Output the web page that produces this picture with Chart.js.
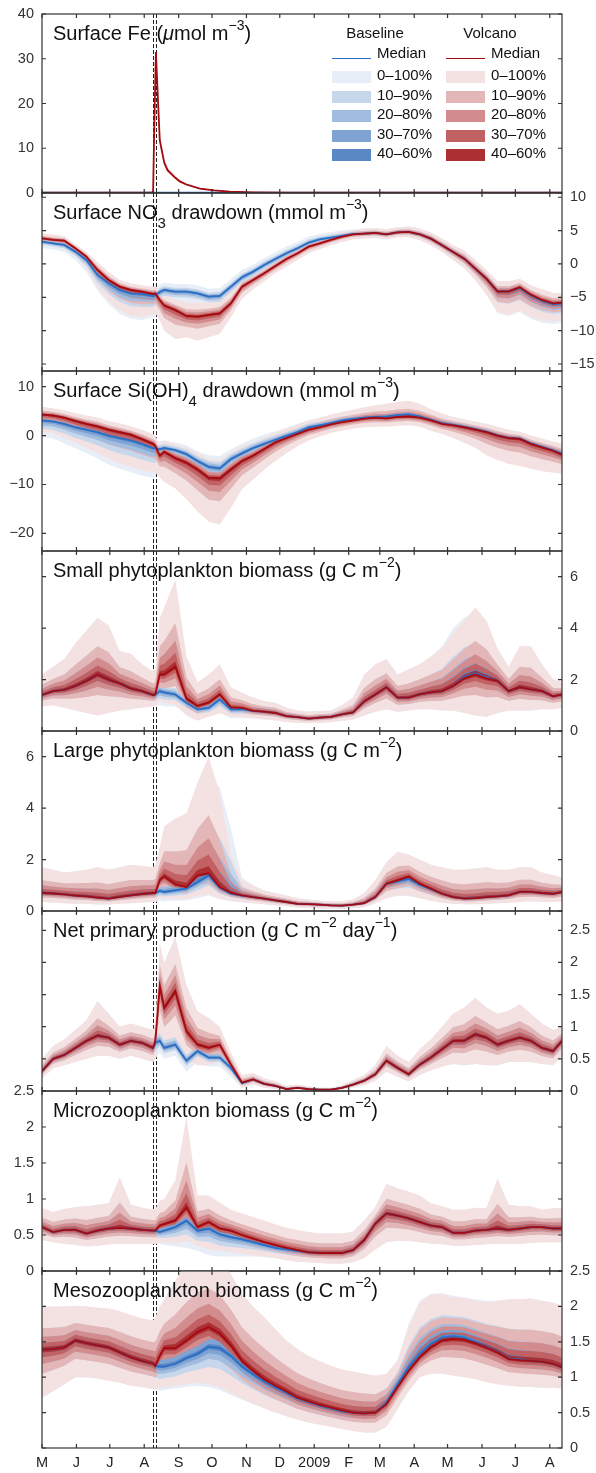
<!DOCTYPE html>
<html>
<head>
<meta charset="utf-8">
<script src="https://cdn.jsdelivr.net/npm/chart.js@4.4.1/dist/chart.umd.min.js"></script>
<style>
  html, body { margin: 0; padding: 0; background: #fff; }
  body { position: relative; width: 596px; height: 1473px; overflow: hidden;
         font-family: "Liberation Sans", Arial, Helvetica, sans-serif; color: #111; }
  canvas { position: absolute; left: 0; }
  .ttl { position: absolute; left: 53px; font-size: 20px; line-height: 20px; white-space: nowrap; }
  .ttl sup { font-size: 14px; line-height: 0; vertical-align: 10px; }
  .ttl sub { font-size: 15px; line-height: 0; vertical-align: -9px; }
  .lg { position: absolute; font-size: 15px; line-height: 18px; white-space: nowrap; color: #111; }
  .sw { position: absolute; width: 39px; height: 12px; }
  .ln { position: absolute; width: 39px; height: 0; border-top: 1.5px solid; }
</style>
</head>
<body>
<script>
// x axis = days since 1 May 2008
const monthDays = [0, 31, 61, 92, 123, 153, 184, 214, 245, 276, 304, 335, 365, 396, 426, 457];
const monthLabels = ['M', 'J', 'J', 'A', 'S', 'O', 'N', 'D', '2009', 'F', 'M', 'A', 'M', 'J', 'J', 'A'];
const eruptionDays = [100, 102.5];
const bandLabels = ['0\u2013100%', '10\u201390%', '20\u201380%', '30\u201370%', '40\u201360%'];

// sample days shared by panels 2-8
const days = [0,10,20,30,40,50,60,70,80,90,100,102,106,110,120,130,140,150,160,170,180,190,200,
  210,220,230,240,250,260,270,280,290,300,310,320,330,340,350,360,370,380,390,400,410,420,430,440,450,460,468];

// Surface Fe
const feDays = [0,60,99,100,101,102.5,104.5,106,110,113,120,124,130,142,155,169,190,220,260,468];
const feBaseMed = [0.1,0.1,0.1,0.1,0.1,0.1,0.1,0.1,0.1,0.1,0.1,0.1,0.1,0.1,0.1,0.1,0.1,0.1,0.1,0.1];
const feBaseLo = [0.05,0.05,0.05,0.05,0.05,0.05,0.05,0.05,0.05,0.05,0.05,0.05,0.05,0.05,0.05,0.05,0.05,0.05,0.05,0.05];
const feBaseHi = [0.15,0.15,0.15,0.15,0.15,0.15,0.15,0.15,0.15,0.15,0.15,0.15,0.15,0.15,0.15,0.15,0.15,0.15,0.15,0.15];
const feVolMed = [0.1,0.1,0.1,0.3,14,31.5,20,11.8,6.8,5.1,3.4,2.6,1.9,1.0,0.6,0.3,0.15,0.1,0.1,0.1];
const feVolLo = [0.05,0.05,0.05,0.2,12,31,18.5,10.5,6.0,4.5,3.0,2.3,1.6,0.85,0.5,0.22,0.1,0.05,0.05,0.05];
const feVolHi = [0.15,0.15,0.15,0.5,16,32,21.5,13,7.6,5.8,3.9,3.0,2.2,1.2,0.75,0.4,0.2,0.15,0.15,0.15];

// Surface NO3 drawdown
const no3BaseMed = [3.35,3.1,2.85,1.85,0.6,-1.65,-2.9,-3.9,-4.4,-4.5,-4.8, -4.65,-4.2,
  -3.9,-4.15,-4.15,-4.4,-4.9,-4.8,-3.4,-2.0,-1.15,-0.15, 0.75,1.6,2.35,3.2,3.7,3.95,4.2,4.5,4.55,4.65,
  4.45,4.75,4.8,4.45,3.8,2.8,1.8,0.8,-0.7,-2.2, -4.1,-4.1,-3.6,-4.7,-5.5,-6.0, -5.9];
const no3BaseLo = [2.4,2.2,1.8,0.6,-1.2,-4.0,-6.0,-7.5,-8.2,-8.4,-8.0, -7.8,-6.0,
  -5.6,-5.8,-5.9,-6.1,-6.6,-6.5,-5.0,-3.5,-2.5,-1.4, -0.5,0.4,1.2,2.1,2.7,3.0,3.3,3.7,3.8,3.9,
  3.7,4.0,4.0,3.6,2.8,1.8,0.6,-0.6,-2.4,-4.6, -7.4,-7.8,-7.2,-8.2,-8.8,-9.0, -8.8];
const no3BaseHi = [4.1,3.9,3.7,2.5,1.3,-0.2,-1.7,-2.9,-3.4,-3.7,-3.9, -3.8,-3.0,
  -2.8,-3.0,-3.0,-3.2,-3.7,-3.6,-2.3,-0.9,-0.1,0.9, 1.7,2.6,3.3,4.1,4.5,4.8,5.0,5.2,5.3,5.4,
  5.2,5.5,5.6,5.3,4.7,3.8,2.8,2.0,0.6,-0.9, -2.6,-2.6,-2.3,-3.3,-3.9,-4.4, -4.5];
const no3VolMed = [3.85,3.6,3.5,2.35,1.1,-0.9,-2.4,-3.4,-3.9,-4.15,-4.5, -4.4,-5.4,
  -6.2,-6.9,-7.8,-7.9,-7.65,-7.4,-5.9,-3.4,-2.4,-1.4, -0.3,0.75,1.6,2.6,3.1,3.6,4.1,4.45,4.55,4.65,
  4.45,4.75,4.8,4.45,3.8,2.8,1.8,0.8,-0.7,-2.2, -4.1,-4.1,-3.5,-4.6,-5.4,-5.9, -5.8];
const no3VolLo = [3.0,2.8,2.4,1.2,-0.6,-3.6,-5.6,-7.0,-7.8,-8.0,-7.6, -7.4,-8.5,
  -10.0,-11.3,-11.0,-11.5,-11.0,-10.5,-8.0,-5.2,-3.8,-2.6, -1.4,-0.4,0.6,1.6,2.2,2.8,3.3,3.7,3.8,3.9,
  3.7,4.0,4.0,3.6,2.8,1.8,0.6,-0.6,-2.4,-4.6, -7.2,-7.6,-7.0,-8.0,-8.4,-8.6, -8.4];
const no3VolHi = [4.6,4.4,4.2,3.0,1.8,0.3,-1.2,-2.4,-2.9,-3.2,-3.4, -3.3,-4.2,
  -4.6,-5.3,-5.8,-5.8,-5.8,-5.5,-4.2,-2.2,-1.4,-0.4, 0.6,1.6,2.4,3.4,3.9,4.4,4.8,5.1,5.3,5.4,
  5.2,5.5,5.6,5.3,4.7,3.8,2.8,2.0,0.6,-0.9, -2.6,-2.6,-2.2,-3.2,-3.8,-4.3, -4.4];

// Surface Si(OH)4 drawdown
const siBaseMed = [3.1,2.9,2.4,1.7,1.2,0.7,0.0,-0.5,-1.0,-1.7,-2.55, -2.55,-2.8,
  -2.55,-3.0,-3.8,-5.2,-6.4,-6.7,-4.8,-3.65,-2.55,-1.7, -0.9,-0.07,0.7,1.7,2.1,2.55,3.1,3.4,3.65,3.8,
  3.9,4.2,4.35,3.9,3.2,2.55,2.2,1.8,1.3,0.8, 0.05,-0.45,-0.6,-1.6,-2.3,-3.0, -3.7];
const siBaseLo = [-0.3,-0.6,-1.6,-2.6,-3.6,-4.7,-5.9,-6.8,-7.5,-8.2,-8.6, -8.6,-5.5,
  -4.5,-5.0,-6.2,-8.0,-9.6,-10.0,-7.5,-6.0,-4.8,-3.8, -2.8,-1.8,-1.0,0.0,0.5,1.0,1.5,1.8,2.0,2.1,
  2.2,2.4,2.5,2.2,1.4,0.6,-0.3,-1.3,-2.4,-3.8, -4.8,-5.6,-6.0,-6.6,-7.1,-7.4, -7.6];
const siBaseHi = [4.8,4.5,4.1,3.5,3.0,2.6,1.9,1.4,0.8,0.1,-0.8, -1.1,-1.2,
  -1.0,-1.4,-2.0,-3.2,-4.0,-4.2,-2.8,-1.6,-0.6,0.2, 0.9,1.6,2.4,3.2,3.7,4.2,4.7,5.0,5.3,5.5,
  5.6,6.0,6.2,5.6,5.0,4.4,3.8,3.3,2.8,2.3, 1.7,1.1,0.7,-0.1,-0.7,-1.3, -1.7];
const siVolMed = [4.3,4.1,3.65,3.0,2.4,1.9,1.2,0.7,0.2,-0.7,-1.7, -2.1,-4.1,
  -3.3,-4.6,-5.5,-6.9,-8.6,-8.7,-6.9,-5.2,-4.1,-2.75, -1.4,-0.5,0.35,1.2,1.7,2.3,2.75,3.1,3.45,3.65,
  3.5,3.8,3.9,3.65,3.1,2.4,2.1,1.7,1.2,0.7, 0.0,-0.5,-0.7,-1.7,-2.4,-3.1, -3.9];
const siVolLo = [0.8,0.5,-0.5,-1.5,-2.5,-3.6,-4.8,-5.7,-6.4,-7.1,-7.5, -7.5,-8.5,
  -9.5,-10.8,-13.0,-15.5,-17.6,-18.2,-14.8,-11.0,-9.0,-7.0, -5.2,-3.6,-2.2,-1.0,-0.2,0.5,1.0,1.4,1.7,1.8,
  1.8,2.0,2.1,1.8,1.0,0.3,-0.5,-1.5,-2.5,-4.0, -5.0,-5.8,-6.2,-6.8,-7.3,-7.6, -7.8];
const siVolHi = [5.9,5.6,5.2,4.6,4.1,3.7,3.0,2.5,1.9,1.2,0.3, 0.0,-1.8,
  -1.0,-1.8,-2.5,-3.5,-4.8,-5.0,-3.5,-2.2,-1.4,-0.4, 0.6,1.4,2.2,3.0,3.6,4.3,4.8,5.3,5.8,6.2,
  6.5,6.9,7.1,6.5,5.4,4.5,3.8,3.3,2.9,2.4, 1.8,1.2,0.8,0.0,-0.6,-1.2, -1.6];

// Small phytoplankton biomass
const spBaseMed = [1.4,1.55,1.6,1.75,1.95,2.2,2.0,1.85,1.65,1.55,1.4, 1.42,1.55,
  1.5,1.42,1.1,0.84,0.9,1.23,0.84,0.85,0.78,0.75, 0.7,0.58,0.54,0.48,0.52,0.55,0.65,0.72,1.15,1.42,
  1.7,1.3,1.3,1.42,1.5,1.55,1.75,2.1,2.25,2.1, 1.95,1.55,1.7,1.62,1.55,1.35, 1.42];
const spBaseLo = [0.95,1.0,0.9,0.8,0.7,0.6,0.7,0.8,0.85,0.9,0.95, 0.95,1.0,
  0.95,0.95,0.7,0.5,0.55,0.7,0.5,0.5,0.5,0.45, 0.42,0.35,0.32,0.3,0.32,0.34,0.4,0.45,0.6,0.75,
  0.85,0.75,0.8,0.85,0.85,0.8,0.8,0.7,0.6,0.55, 0.7,0.8,0.8,0.8,0.85,0.85, 0.9];
const spBaseHi = [2.2,2.5,2.8,3.4,3.9,4.4,4.1,3.1,3.0,2.6,2.3, 2.4,2.0,
  1.95,1.9,1.5,1.3,1.5,1.8,1.4,1.35,1.3,1.16, 1.1,0.9,0.8,0.75,0.78,0.8,1.0,1.3,2.2,2.6,
  2.8,2.2,2.4,2.6,2.9,3.3,4.0,4.4,4.6,4.2, 3.2,2.5,3.3,3.3,2.6,2.0, 1.9];
const spVolMed = [1.4,1.55,1.6,1.75,1.95,2.2,2.0,1.85,1.65,1.55,1.4, 1.42,2.2,
  2.2,2.5,1.25,0.97,1.1,1.42,0.92,0.9,0.78,0.75, 0.7,0.58,0.54,0.48,0.52,0.55,0.65,0.72,1.15,1.42,
  1.7,1.3,1.3,1.42,1.5,1.55,1.75,2.05,2.2,2.05, 1.95,1.55,1.7,1.62,1.55,1.35, 1.42];
const spVolLo = [0.95,1.0,0.9,0.8,0.7,0.6,0.7,0.8,0.85,0.9,0.95, 0.95,1.2,
  1.1,1.0,0.6,0.4,0.55,0.7,0.55,0.55,0.5,0.45, 0.42,0.35,0.32,0.3,0.32,0.34,0.4,0.45,0.6,0.75,
  0.85,0.75,0.8,0.85,0.85,0.8,0.8,0.7,0.6,0.55, 0.7,0.8,0.8,0.8,0.85,0.85, 0.9];
const spVolHi = [2.2,2.5,2.8,3.4,3.9,4.4,4.1,3.1,3.0,2.6,2.3, 2.4,4.4,
  4.8,5.9,2.9,1.9,2.2,2.6,1.7,1.5,1.3,1.16, 1.1,0.9,0.8,0.75,0.78,0.8,1.0,1.3,2.2,2.6,
  2.8,2.2,2.4,2.6,2.9,3.2,3.8,4.3,4.8,4.3, 3.2,2.5,3.3,3.3,2.6,2.0, 1.9];

// Large phytoplankton biomass
const lpBaseMed = [0.7,0.68,0.65,0.6,0.57,0.52,0.48,0.55,0.61,0.66,0.7, 0.7,0.78,
  0.74,0.8,0.87,1.12,1.38,0.9,0.68,0.6,0.54,0.48, 0.41,0.35,0.28,0.27,0.25,0.22,0.21,0.25,0.31,0.54,
  1.06,1.15,1.25,1.02,0.85,0.67,0.54,0.48,0.5,0.54, 0.57,0.61,0.74,0.74,0.7,0.67, 0.74];
const lpBaseLo = [0.35,0.33,0.3,0.28,0.28,0.25,0.25,0.28,0.3,0.33,0.35, 0.35,0.4,
  0.38,0.4,0.42,0.5,0.6,0.45,0.38,0.33,0.3,0.26, 0.22,0.18,0.14,0.12,0.1,0.09,0.09,0.11,0.15,0.3,
  0.5,0.58,0.58,0.5,0.4,0.32,0.28,0.26,0.26,0.28, 0.3,0.32,0.35,0.38,0.36,0.35, 0.38];
const lpBaseHi = [1.7,1.6,1.5,1.55,1.6,1.7,1.6,1.7,1.8,1.75,1.7, 1.8,1.3,
  1.4,1.6,2.0,3.5,5.2,4.8,3.2,1.3,1.0,0.8, 0.7,0.6,0.5,0.45,0.4,0.38,0.38,0.45,0.7,1.2,
  1.9,2.25,2.15,2.0,1.8,1.7,1.6,1.6,1.65,1.7, 1.6,1.6,1.7,1.7,1.5,1.4, 1.3];
const lpVolMed = [0.7,0.68,0.65,0.6,0.57,0.52,0.48,0.55,0.61,0.66,0.7, 0.7,1.2,
  1.34,1.03,0.93,1.38,1.47,0.93,0.7,0.61,0.54,0.48, 0.41,0.35,0.28,0.27,0.25,0.22,0.21,0.25,0.31,0.54,
  1.06,1.19,1.34,1.06,0.87,0.67,0.54,0.48,0.5,0.54, 0.57,0.61,0.74,0.74,0.7,0.67, 0.74];
const lpVolLo = [0.35,0.33,0.3,0.28,0.28,0.25,0.25,0.28,0.3,0.33,0.35, 0.35,0.5,
  0.5,0.45,0.45,0.6,0.65,0.5,0.4,0.35,0.3,0.26, 0.22,0.18,0.14,0.12,0.1,0.09,0.09,0.11,0.15,0.3,
  0.5,0.6,0.6,0.5,0.4,0.32,0.28,0.26,0.26,0.28, 0.3,0.32,0.35,0.38,0.36,0.35, 0.38];
const lpVolHi = [1.7,1.6,1.5,1.55,1.6,1.7,1.6,1.7,1.8,1.75,1.7, 1.8,2.5,
  3.3,3.6,3.8,5.0,6.0,4.6,2.2,1.2,1.0,0.8, 0.7,0.6,0.5,0.45,0.4,0.38,0.38,0.45,0.7,1.2,
  1.9,2.3,2.2,2.0,1.8,1.7,1.6,1.6,1.65,1.7, 1.6,1.6,1.7,1.7,1.5,1.4, 1.3];

// Net primary production
const npBaseMed = [0.31,0.5,0.56,0.67,0.78,0.86,0.83,0.72,0.78,0.75,0.67, 0.75,0.78,
  0.67,0.72,0.47,0.62,0.52,0.52,0.36,0.12,0.18,0.11, 0.08,0.03,0.05,0.03,0.02,0.02,0.05,0.1,0.16,0.26,
  0.47,0.36,0.26,0.41,0.52,0.65,0.78,0.78,0.88,0.83, 0.72,0.78,0.83,0.78,0.67,0.62, 0.78];
const npBaseLo = [0.2,0.35,0.4,0.45,0.5,0.55,0.55,0.5,0.55,0.5,0.45, 0.5,0.6,
  0.5,0.55,0.3,0.45,0.38,0.38,0.22,0.05,0.1,0.05, 0.03,0.01,0.02,0.01,0.0,0.0,0.02,0.05,0.09,0.16,
  0.3,0.22,0.15,0.25,0.32,0.38,0.42,0.4,0.42,0.4, 0.4,0.45,0.45,0.45,0.42,0.4, 0.55];
const npBaseHi = [0.5,0.7,0.8,0.95,1.1,1.4,1.2,1.0,1.05,1.0,0.95, 1.0,1.0,
  0.9,0.95,0.65,0.8,0.7,0.7,0.5,0.22,0.28,0.2, 0.15,0.08,0.1,0.07,0.05,0.05,0.09,0.17,0.25,0.4,
  0.7,0.55,0.45,0.65,0.8,1.0,1.2,1.3,1.45,1.3, 1.2,1.25,1.35,1.2,1.05,0.95, 1.0];
const npVolMed = [0.31,0.5,0.56,0.67,0.78,0.86,0.83,0.72,0.78,0.75,0.67, 0.78,1.63,
  1.29,1.55,0.93,0.72,0.67,0.72,0.41,0.13,0.18,0.11, 0.08,0.03,0.05,0.03,0.02,0.02,0.05,0.1,0.16,0.26,
  0.47,0.36,0.26,0.41,0.52,0.65,0.78,0.78,0.88,0.83, 0.72,0.78,0.83,0.78,0.67,0.62, 0.78];
const npVolLo = [0.2,0.35,0.4,0.45,0.5,0.55,0.55,0.5,0.55,0.5,0.45, 0.5,0.9,
  0.7,0.8,0.5,0.4,0.4,0.45,0.25,0.05,0.1,0.05, 0.03,0.01,0.02,0.01,0.0,0.0,0.02,0.05,0.09,0.16,
  0.3,0.22,0.15,0.25,0.32,0.38,0.42,0.4,0.42,0.4, 0.4,0.45,0.45,0.45,0.42,0.4, 0.55];
const npVolHi = [0.5,0.7,0.8,0.95,1.1,1.4,1.2,1.0,1.05,1.0,0.95, 1.05,2.3,
  2.0,2.4,1.65,1.24,1.14,1.0,0.6,0.25,0.28,0.2, 0.15,0.08,0.1,0.07,0.05,0.05,0.09,0.17,0.25,0.4,
  0.7,0.55,0.45,0.65,0.8,1.0,1.2,1.3,1.45,1.3, 1.2,1.25,1.35,1.2,1.05,0.95, 1.0];

// Microzooplankton biomass
const mzBaseMed = [0.61,0.54,0.57,0.57,0.52,0.56,0.59,0.6,0.59,0.57,0.56, 0.56,0.54,
  0.56,0.61,0.7,0.56,0.59,0.51,0.47,0.44,0.4,0.36, 0.32,0.3,0.28,0.26,0.25,0.25,0.25,0.29,0.43,0.66,
  0.8,0.77,0.73,0.68,0.63,0.61,0.53,0.53,0.56,0.57, 0.59,0.57,0.59,0.61,0.61,0.59, 0.59];
const mzBaseLo = [0.43,0.4,0.38,0.36,0.34,0.35,0.37,0.38,0.38,0.38,0.38, 0.38,0.38,
  0.36,0.34,0.32,0.28,0.22,0.2,0.2,0.2,0.2,0.19, 0.18,0.15,0.13,0.12,0.11,0.1,0.1,0.12,0.18,0.3,
  0.4,0.42,0.42,0.4,0.38,0.37,0.35,0.35,0.36,0.37, 0.38,0.38,0.38,0.39,0.4,0.4, 0.4];
const mzBaseHi = [0.87,0.82,0.86,0.89,0.9,0.92,0.94,1.3,0.92,0.88,0.85, 0.86,0.85,
  0.85,0.9,1.0,0.85,0.85,0.78,0.72,0.7,0.68,0.65, 0.62,0.58,0.55,0.53,0.52,0.52,0.52,0.55,0.7,0.89,
  1.21,1.15,1.1,1.05,0.94,0.9,0.85,0.85,0.88,0.87, 1.28,0.92,0.9,0.9,0.85,0.87, 0.88];
const mzVolMed = [0.61,0.54,0.57,0.57,0.52,0.56,0.59,0.6,0.59,0.57,0.56, 0.56,0.63,
  0.65,0.7,0.88,0.61,0.68,0.59,0.56,0.5,0.45,0.4, 0.36,0.32,0.29,0.26,0.25,0.25,0.25,0.29,0.43,0.66,
  0.8,0.77,0.73,0.68,0.63,0.61,0.53,0.53,0.56,0.57, 0.59,0.57,0.59,0.61,0.61,0.59, 0.59];
const mzVolLo = [0.43,0.4,0.38,0.36,0.34,0.35,0.37,0.38,0.38,0.38,0.38, 0.38,0.4,
  0.4,0.38,0.42,0.35,0.3,0.28,0.26,0.24,0.22,0.2, 0.18,0.15,0.13,0.12,0.11,0.1,0.1,0.12,0.18,0.3,
  0.4,0.42,0.42,0.4,0.38,0.37,0.35,0.35,0.36,0.37, 0.38,0.38,0.38,0.39,0.4,0.4, 0.4];
const mzVolHi = [0.87,0.82,0.86,0.89,0.9,0.92,0.94,1.3,0.92,0.88,0.85, 0.86,0.98,
  1.0,1.26,2.14,1.05,1.05,0.95,0.85,0.8,0.75,0.7, 0.65,0.6,0.57,0.54,0.52,0.52,0.52,0.55,0.7,0.89,
  1.21,1.15,1.1,1.05,0.94,0.9,0.85,0.85,0.88,0.87, 1.28,0.92,0.9,0.9,0.85,0.87, 0.88];

// Mesozooplankton biomass
const msBaseMed = [1.39,1.4,1.42,1.52,1.48,1.45,1.42,1.35,1.28,1.23,1.19, 1.16,1.15,
  1.15,1.19,1.27,1.33,1.43,1.41,1.3,1.15,1.04,0.94, 0.86,0.78,0.7,0.65,0.6,0.56,0.52,0.5,0.49,0.5,
  0.64,0.9,1.14,1.33,1.47,1.56,1.58,1.56,1.5,1.43, 1.36,1.27,1.25,1.23,1.22,1.19, 1.14];
const msBaseLo = [0.71,0.8,0.9,1.0,1.0,0.98,0.95,0.92,0.88,0.86,0.83, 0.83,0.8,
  0.82,0.84,0.86,0.88,0.86,0.82,0.75,0.68,0.62,0.56, 0.5,0.45,0.4,0.36,0.33,0.3,0.27,0.24,0.22,0.22,
  0.3,0.55,0.82,1.02,1.08,1.08,1.05,1.02,0.98,0.94, 0.9,0.88,0.87,0.86,0.85,0.85, 0.84];
const msBaseHi = [1.99,2.0,2.0,2.01,2.0,1.98,1.97,1.93,1.88,1.83,1.8, 1.8,1.75,
  1.75,1.8,1.9,2.0,2.1,2.1,2.0,1.85,1.75,1.65, 1.55,1.45,1.35,1.27,1.2,1.14,1.1,1.07,1.05,1.02,
  1.05,1.25,1.75,2.08,2.18,2.19,2.15,2.13,2.1,2.08, 2.08,2.1,2.1,2.11,2.08,2.05, 2.01];
const msVolMed = [1.39,1.4,1.42,1.52,1.48,1.45,1.42,1.35,1.28,1.23,1.19, 1.16,1.3,
  1.41,1.41,1.52,1.64,1.71,1.62,1.45,1.23,1.09,0.97, 0.88,0.8,0.71,0.66,0.61,0.57,0.53,0.5,0.49,0.5,
  0.62,0.86,1.09,1.28,1.42,1.52,1.54,1.53,1.48,1.42, 1.35,1.26,1.24,1.23,1.22,1.19, 1.14];
const msVolLo = [0.71,0.8,0.9,1.0,1.0,0.98,0.95,0.92,0.88,0.86,0.83, 0.83,0.85,
  0.85,0.88,0.9,0.92,0.9,0.85,0.78,0.7,0.62,0.56, 0.5,0.45,0.4,0.36,0.33,0.3,0.27,0.24,0.22,0.22,
  0.3,0.55,0.8,1.0,1.05,1.05,1.02,1.0,0.97,0.93, 0.9,0.88,0.87,0.86,0.85,0.85, 0.84];
const msVolHi = [1.99,2.0,2.0,2.01,2.0,1.98,1.97,1.93,1.88,1.83,1.8, 1.85,2.0,
  2.1,2.37,2.6,2.75,2.8,2.7,2.46,2.18,2.0,1.85, 1.68,1.52,1.4,1.3,1.23,1.16,1.11,1.08,1.05,1.02,
  1.05,1.23,1.71,2.05,2.16,2.17,2.13,2.12,2.08,2.06, 2.08,2.1,2.1,2.11,2.08,2.05, 2.01];

// inner percentile bands sit at these fractions of the 0-100% spread
const FRACS = [1, 0.5, 0.3, 0.16, 0.06];
const BLUE_FILL = ['#e8eef7', '#c6d6eb', '#a2bcdf', '#7fa3d2', '#5a88c5'];
const RED_FILL = ['#f4e2e3', '#e3b6b8', '#d38c8e', '#c16164', '#ab2f33'];
const BLUE_LINE = '#2a6ec6', RED_LINE = '#a50a10';

const panels = [
  { title: 'Surface Fe (<i>\u03bc</i>mol m<sup>\u22123</sup>)', xs: feDays,
    base: [feBaseMed, feBaseLo, feBaseHi], vol: [feVolMed, feVolLo, feVolHi],
    min: 0, max: 40, ticks: [0, 10, 20, 30, 40], side: 'left', top: 14, bottom: 193 },
  { title: 'Surface NO<sub>3</sub> drawdown (mmol m<sup>\u22123</sup>)', xs: days,
    base: [no3BaseMed, no3BaseLo, no3BaseHi], vol: [no3VolMed, no3VolLo, no3VolHi],
    min: -16.05, max: 10.64, ticks: [-15, -10, -5, 0, 5, 10], side: 'right', top: 193, bottom: 371 },
  { title: 'Surface Si(OH)<sub>4</sub> drawdown (mmol m<sup>\u22123</sup>)', xs: days,
    base: [siBaseMed, siBaseLo, siBaseHi], vol: [siVolMed, siVolLo, siVolHi],
    min: -23.6, max: 13.2, ticks: [-20, -10, 0, 10], side: 'left', top: 371, bottom: 551 },
  { title: 'Small phytoplankton biomass (g C m<sup>\u22122</sup>)', xs: days,
    base: [spBaseMed, spBaseLo, spBaseHi], vol: [spVolMed, spVolLo, spVolHi],
    min: 0, max: 7, ticks: [0, 2, 4, 6], side: 'right', top: 551, bottom: 731 },
  { title: 'Large phytoplankton biomass (g C m<sup>\u22122</sup>)', xs: days,
    base: [lpBaseMed, lpBaseLo, lpBaseHi], vol: [lpVolMed, lpVolLo, lpVolHi],
    min: 0, max: 7, ticks: [0, 2, 4, 6], side: 'left', top: 731, bottom: 911 },
  { title: 'Net primary production (g C m<sup>\u22122</sup> day<sup>\u22121</sup>)', xs: days,
    base: [npBaseMed, npBaseLo, npBaseHi], vol: [npVolMed, npVolLo, npVolHi],
    min: 0, max: 2.8, ticks: [0, 0.5, 1, 1.5, 2, 2.5], side: 'right', top: 911, bottom: 1091 },
  { title: 'Microzooplankton biomass (g C m<sup>\u22122</sup>)', xs: days,
    base: [mzBaseMed, mzBaseLo, mzBaseHi], vol: [mzVolMed, mzVolLo, mzVolHi],
    min: 0, max: 2.5, ticks: [0, 0.5, 1, 1.5, 2, 2.5], side: 'left', top: 1091, bottom: 1271 },
  { title: 'Mesozooplankton biomass (g C m<sup>\u22122</sup>)', xs: days,
    base: [msBaseMed, msBaseLo, msBaseHi], vol: [msVolMed, msVolLo, msVolHi],
    min: 0, max: 2.5, ticks: [0, 0.5, 1, 1.5, 2, 2.5], side: 'right', top: 1271, bottom: 1448 },
];

Chart.defaults.font.family = '"Liberation Sans", Arial, Helvetica, sans-serif';
Chart.defaults.font.size = 14.5;
Chart.defaults.color = '#333';

const PAD = 24;
const fmtTick = (v) => (v < 0 ? '\u2212' + (-v) : String(v));

// dashed eruption lines under the bands, box + inward ticks on top
const framePlugin = {
  id: 'frame',
  beforeDatasetsDraw(chart) {
    const { ctx, chartArea: a, scales: { x } } = chart;
    ctx.save();
    ctx.strokeStyle = '#222';
    ctx.lineWidth = 1;
    ctx.setLineDash([4, 2]);
    eruptionDays.forEach(d => {
      const px = Math.round(x.getPixelForValue(d)) + 0.5;
      ctx.beginPath();
      ctx.moveTo(px, a.top);
      ctx.lineTo(px, a.bottom);
      ctx.stroke();
    });
    ctx.restore();
  },
  afterDatasetsDraw(chart) {
    const { ctx, chartArea: a, scales: { x, y } } = chart;
    ctx.save();
    ctx.strokeStyle = '#333';
    ctx.lineWidth = 1.2;
    ctx.strokeRect(a.left, a.top, a.right - a.left, a.bottom - a.top);
    ctx.beginPath();
    monthDays.forEach(d => {
      const px = x.getPixelForValue(d);
      ctx.moveTo(px, a.top); ctx.lineTo(px, a.top + 4);
      ctx.moveTo(px, a.bottom); ctx.lineTo(px, a.bottom - 4);
    });
    y.ticks.forEach(t => {
      const py = y.getPixelForValue(t.value);
      ctx.moveTo(a.left, py); ctx.lineTo(a.left + 4, py);
      ctx.moveTo(a.right, py); ctx.lineTo(a.right - 4, py);
    });
    ctx.stroke();
    ctx.restore();
  }
};

function pts(xs, arr) {
  return xs.map((x, j) => ({ x, y: arr[j] }));
}

// one percentile band = lower edge + upper edge filled to it
function addBand(list, xs, [med, lo, hi], f, color, order) {
  list.push({ data: xs.map((x, j) => ({ x, y: med[j] - f * (med[j] - lo[j]) })),
    borderColor: 'rgba(0,0,0,0)', borderWidth: 0, pointRadius: 0, fill: false, order });
  list.push({ data: xs.map((x, j) => ({ x, y: med[j] + f * (hi[j] - med[j]) })),
    borderColor: 'rgba(0,0,0,0)', borderWidth: 0, pointRadius: 0, fill: '-1',
    backgroundColor: color, order });
}

panels.forEach((p, i) => {
  const last = i === panels.length - 1;
  const cTop = p.top - PAD;
  const cH = last ? 1473 - cTop : (p.bottom - p.top) + 2 * PAD;
  const cv = document.createElement('canvas');
  cv.width = 596;
  cv.height = cH;
  cv.style.top = cTop + 'px';
  document.body.appendChild(cv);

  const datasets = [];
  datasets.push({ data: pts(p.xs, p.vol[0]), borderColor: RED_LINE, borderWidth: 1.8,
    pointRadius: 0, fill: false, order: 0 });
  datasets.push({ data: pts(p.xs, p.base[0]), borderColor: BLUE_LINE, borderWidth: 1.8,
    pointRadius: 0, fill: false, order: 1 });
  // interleave: at every level the baseline band goes first, volcano over it
  FRACS.forEach((f, k) => {
    addBand(datasets, p.xs, p.vol, f, RED_FILL[k], 20 - 2 * k);
    addBand(datasets, p.xs, p.base, f, BLUE_FILL[k], 21 - 2 * k);
  });

  const left = p.side === 'left';
  new Chart(cv, {
    type: 'line',
    data: { datasets },
    options: {
      responsive: false,
      animation: false,
      events: [],
      elements: { line: { tension: 0 } },
      layout: { padding: { top: PAD, bottom: last ? 0 : PAD, left: left ? 0 : 42, right: left ? 34 : 0 } },
      plugins: { legend: { display: false }, tooltip: { enabled: false } },
      scales: {
        x: {
          type: 'linear', min: 0, max: 468, display: last,
          grid: { display: false, drawTicks: false }, border: { display: false },
          afterBuildTicks: (s) => { s.ticks = monthDays.map(v => ({ value: v })); },
          afterFit: (s) => { if (last) s.height = 25; },
          ticks: { autoSkip: false, maxRotation: 0, padding: 6, color: '#222',
            callback: (v, k) => monthLabels[k] }
        },
        y: {
          type: 'linear', position: p.side, min: p.min, max: p.max,
          grid: { display: false, drawTicks: false }, border: { display: false },
          afterBuildTicks: (s) => { s.ticks = p.ticks.map(v => ({ value: v })); },
          afterFit: (s) => { s.width = left ? 42 : 34; },
          ticks: { padding: 8, color: '#333', callback: fmtTick }
        }
      }
    },
    plugins: [framePlugin]
  });

  const t = document.createElement('div');
  t.className = 'ttl';
  t.style.top = (p.top + 9) + 'px';
  t.innerHTML = p.title;
  document.body.appendChild(t);
});

// legend (top panel)
const legendRows = [53, 75, 94.5, 114, 133.5, 153];
function addLegend(name, cx, swX, txtX, lineCol, fills) {
  const h = document.createElement('div');
  h.className = 'lg';
  h.style.left = (cx - 50) + 'px';
  h.style.width = '100px';
  h.style.textAlign = 'center';
  h.style.top = (33 - 9) + 'px';
  h.textContent = name;
  document.body.appendChild(h);

  const ln = document.createElement('div');
  ln.className = 'ln';
  ln.style.left = swX + 'px';
  ln.style.top = (legendRows[0] + 5) + 'px';
  ln.style.borderTopColor = lineCol;
  document.body.appendChild(ln);

  const labels = ['Median'].concat(bandLabels);
  labels.forEach((lab, r) => {
    if (r > 0) {
      const sw = document.createElement('div');
      sw.className = 'sw';
      sw.style.left = swX + 'px';
      sw.style.top = (legendRows[r] - 4) + 'px';
      sw.style.background = fills[r - 1];
      document.body.appendChild(sw);
    }
    const tx = document.createElement('div');
    tx.className = 'lg';
    tx.style.left = txtX + 'px';
    tx.style.top = (legendRows[r] - 9) + 'px';
    tx.textContent = lab;
    document.body.appendChild(tx);
  });
}
addLegend('Baseline', 375, 332, 377, BLUE_LINE, BLUE_FILL);
addLegend('Volcano', 490, 446, 491, RED_LINE, RED_FILL);
</script>
</body>
</html>
